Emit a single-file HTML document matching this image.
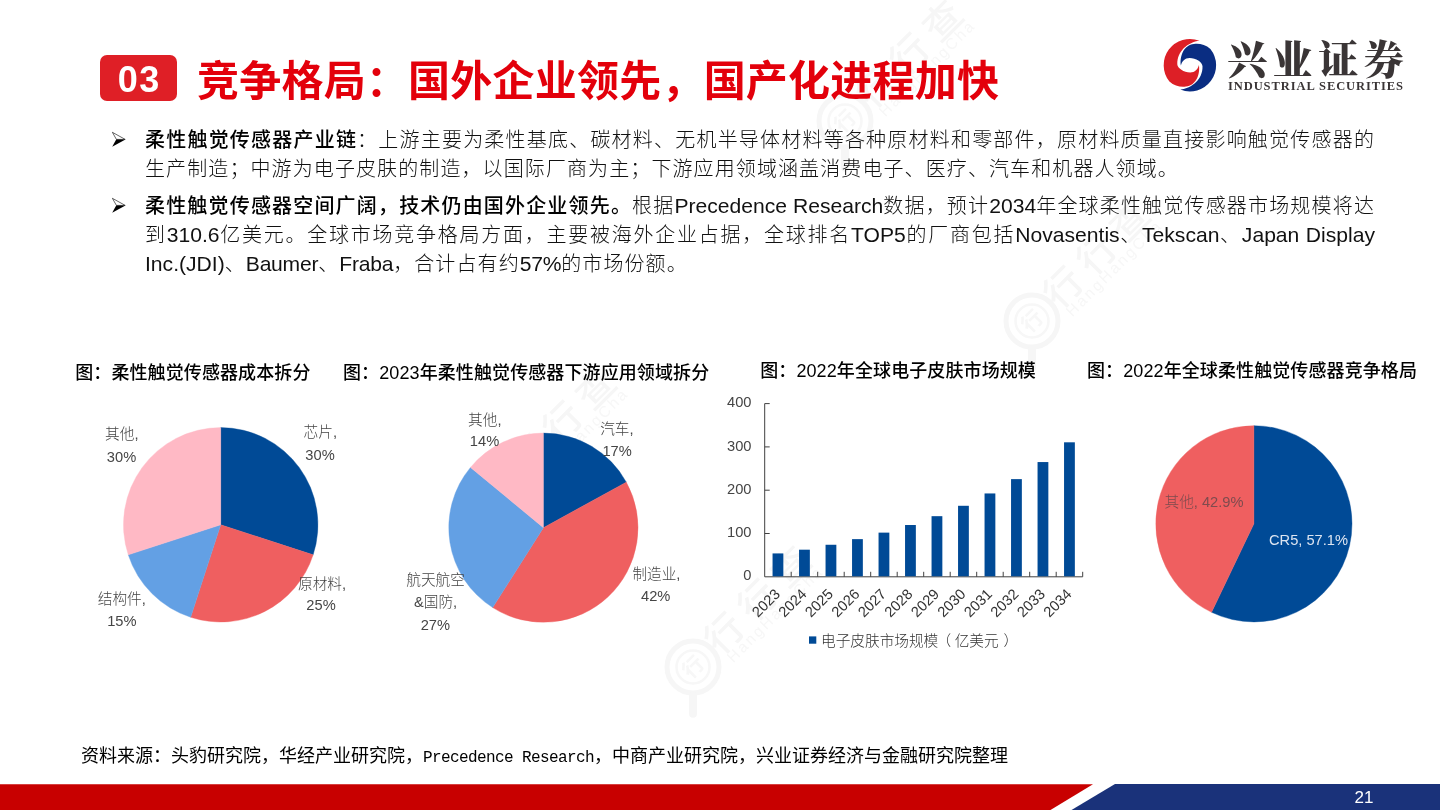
<!DOCTYPE html>
<html lang="zh-CN">
<head>
<meta charset="utf-8">
<title>竞争格局：国外企业领先，国产化进程加快</title>
<style>
html,body{margin:0;padding:0;background:#fff;}
body{width:1440px;height:810px;position:relative;overflow:hidden;font-family:"Liberation Sans","Noto Sans CJK SC",sans-serif;color:#000;}
.abs{position:absolute;}
#badge{left:100px;top:55px;width:77px;height:46px;border-radius:7px;background:#df1f26;color:#fff;font-weight:bold;font-size:36px;line-height:50px;text-align:center;letter-spacing:1.4px;text-indent:1.4px;}
#title{left:197px;top:51.5px;letter-spacing:0.22px;height:60px;line-height:60px;font-size:42px;font-weight:bold;color:#e3000b;white-space:nowrap;}
.para{left:145px;width:1230px;font-size:20px;letter-spacing:1.1px;line-height:29px;font-weight:300;text-align:justify;color:#111;}
.para b{font-weight:500;color:#000;}
.para .l{font-size:21.1px;letter-spacing:0;line-height:0;}
.para .n{letter-spacing:-0.25px;}
.ct{font-size:18px;line-height:24px;letter-spacing:0.1px;white-space:nowrap;color:#000;font-weight:500;}
#src{left:81px;top:745px;font-size:18px;line-height:24px;white-space:nowrap;font-family:"Liberation Mono","Noto Sans CJK SC",monospace;color:#000;}
#src .mono{font-size:16px;letter-spacing:-0.6px;}
#pg{left:1340px;top:787.3px;width:48px;text-align:center;color:#fff;font-size:17px;line-height:22px;}
svg text{font-family:"Liberation Sans","Noto Sans CJK SC",sans-serif;}
</style>
</head>
<body>
<!-- watermark -->
<svg class="abs" style="left:0;top:0" width="1440" height="810" viewBox="0 0 1440 810">
<g transform="translate(845 121) rotate(-45)">
  <circle r="26" fill="none" stroke="#f6f6f6" stroke-width="5"/>
  <circle r="16.5" fill="none" stroke="#f7f7f7" stroke-width="2.5"/>
  <text x="0" y="7.5" text-anchor="middle" font-size="21" font-weight="700" fill="#f7f7f7">行</text>
  <path d="M-20.5 20.5L-33 33" stroke="#f6f6f6" stroke-width="8" stroke-linecap="round"/>
  <text x="27" y="12" font-size="38" font-weight="500" fill="#f6f6f6" style="letter-spacing:9px">行行查</text>
  <text x="31" y="26" font-size="15.5" fill="#f7f7f7" style="letter-spacing:2.4px">HangHangCha</text>
</g>
<g transform="translate(1032 321) rotate(-45)">
  <circle r="26" fill="none" stroke="#f6f6f6" stroke-width="5"/>
  <circle r="16.5" fill="none" stroke="#f7f7f7" stroke-width="2.5"/>
  <text x="0" y="7.5" text-anchor="middle" font-size="21" font-weight="700" fill="#f7f7f7">行</text>
  <path d="M-20.5 20.5L-33 33" stroke="#f6f6f6" stroke-width="8" stroke-linecap="round"/>
  <text x="27" y="12" font-size="38" font-weight="500" fill="#f6f6f6" style="letter-spacing:9px">行行查</text>
  <text x="31" y="26" font-size="15.5" fill="#f7f7f7" style="letter-spacing:2.4px">HangHangCha</text>
</g>
<g transform="translate(498 489) rotate(-45)">
  <circle r="26" fill="none" stroke="#f6f6f6" stroke-width="5"/>
  <circle r="16.5" fill="none" stroke="#f7f7f7" stroke-width="2.5"/>
  <text x="0" y="7.5" text-anchor="middle" font-size="21" font-weight="700" fill="#f7f7f7">行</text>
  <path d="M-20.5 20.5L-33 33" stroke="#f6f6f6" stroke-width="8" stroke-linecap="round"/>
  <text x="27" y="12" font-size="38" font-weight="500" fill="#f6f6f6" style="letter-spacing:9px">行行查</text>
  <text x="31" y="26" font-size="15.5" fill="#f7f7f7" style="letter-spacing:2.4px">HangHangCha</text>
</g>
<g transform="translate(693 667) rotate(-45)">
  <circle r="26" fill="none" stroke="#f6f6f6" stroke-width="5"/>
  <circle r="16.5" fill="none" stroke="#f7f7f7" stroke-width="2.5"/>
  <text x="0" y="7.5" text-anchor="middle" font-size="21" font-weight="700" fill="#f7f7f7">行</text>
  <path d="M-20.5 20.5L-33 33" stroke="#f6f6f6" stroke-width="8" stroke-linecap="round"/>
  <text x="27" y="12" font-size="38" font-weight="500" fill="#f6f6f6" style="letter-spacing:9px">行行查</text>
  <text x="31" y="26" font-size="15.5" fill="#f7f7f7" style="letter-spacing:2.4px">HangHangCha</text>
</g>
</svg>
<!-- header -->
<div id="badge" class="abs">03</div>
<div id="title" class="abs">竞争格局：国外企业领先，国产化进程加快</div>

<!-- logo -->
<svg class="abs" style="left:1150px;top:20px" width="280" height="90" viewBox="0 0 280 90">
  <g transform="translate(39.9 45.2)">
    <path id="sw" d="M-9 0.3C-10.5 -9 -6 -20.5 4 -21.3C9 -22 15.5 -21 20.5 -16.3A26.2 26.2 0 0 1 -9.6 24.4C2 23 13 14 12.6 1C12.5 -3 6 -7.2 -0.3 -7.2C-5 -7.2 -8 -4 -9 0.3Z" fill="#0a2d82"/>
    <path d="M-9 0.3C-10.5 -9 -6 -20.5 4 -21.3C9 -22 15.5 -21 20.5 -16.3A26.2 26.2 0 0 1 -9.6 24.4C2 23 13 14 12.6 1C12.5 -3 6 -7.2 -0.3 -7.2C-5 -7.2 -8 -4 -9 0.3Z" fill="#dd1f26" transform="rotate(180)"/>
  </g>
  <text x="77" y="53.5" font-size="40" font-weight="900" fill="#3a3536" style="font-family:'Liberation Serif','Noto Serif CJK SC',serif;letter-spacing:5.6px">兴业证券</text>
  <text x="78" y="69.5" font-size="12.5" font-weight="bold" fill="#3a3536" style="font-family:'Liberation Serif',serif" textLength="175" lengthAdjust="spacing">INDUSTRIAL SECURITIES</text>
</svg>

<!-- body text -->
<svg class="abs" style="left:108px;top:128px" width="22" height="22" viewBox="108 128 22 22"><path d="M112.4 132.3L125.2 139.4H116.4Z" fill="#fff" stroke="#000" stroke-width="0.6" stroke-linejoin="miter"/><path d="M116.2 139.4H125.4L112.2 146.7Z" fill="#000"/></svg>
<div class="abs para" style="top:125.8px"><b>柔性触觉传感器产业链</b>：上游主要为柔性基底、碳材料、无机半导体材料等各种原材料和零部件，原材料质量直接影响触觉传感器的生产制造；中游为电子皮肤的制造，以国际厂商为主；下游应用领域涵盖消费电子、医疗、汽车和机器人领域。</div>
<svg class="abs" style="left:108px;top:194px" width="22" height="22" viewBox="108 194 22 22"><path d="M112.4 198.3L125.2 205.4H116.4Z" fill="#fff" stroke="#000" stroke-width="0.6" stroke-linejoin="miter"/><path d="M116.2 205.4H125.4L112.2 212.7Z" fill="#000"/></svg>
<div class="abs para" style="top:192px"><b>柔性触觉传感器空间广阔，技术仍由国外企业领先。</b>根据<span class="l">Precedence Research</span>数据，预计<span class="l">2034</span>年全球柔性触觉传感器市场规模将达到<span class="l">310.6</span>亿美元。全球市场竞争格局方面，主要被海外企业占据，全球排名<span class="l">TOP5</span>的厂商包括<span class="l">Novasentis</span>、<span class="l">Tekscan</span>、<span class="l">Japan Display Inc.(JDI)</span>、<span class="l n">Baumer</span>、<span class="l n">Fraba</span>，合计占有约<span class="l n">57%</span>的市场份额。</div>

<!-- chart titles -->
<div class="abs ct" style="left:75.2px;top:361px">图：柔性触觉传感器成本拆分</div>
<div class="abs ct" style="left:343px;top:361px">图：2023年柔性触觉传感器下游应用领域拆分</div>
<div class="abs ct" style="left:760.2px;top:359px">图：2022年全球电子皮肤市场规模</div>
<div class="abs ct" style="left:1087px;top:359px">图：2022年全球柔性触觉传感器竞争格局</div>

<!-- charts -->
<svg id="charts" class="abs" style="left:0;top:0" width="1440" height="810" viewBox="0 0 1440 810">
<path d="M220.70 524.80L220.70 427.60A97.2 97.2 0 0 1 313.14 554.84Z" fill="#004a96" stroke="#004a96" stroke-width="0.4"/>
<path d="M220.70 524.80L313.14 554.84A97.2 97.2 0 0 1 190.66 617.24Z" fill="#ef5f60" stroke="#ef5f60" stroke-width="0.4"/>
<path d="M220.70 524.80L190.66 617.24A97.2 97.2 0 0 1 128.26 554.84Z" fill="#63a0e4" stroke="#63a0e4" stroke-width="0.4"/>
<path d="M220.70 524.80L128.26 554.84A97.2 97.2 0 0 1 220.70 427.60Z" fill="#ffb9c5" stroke="#ffb9c5" stroke-width="0.4"/>
<text x="121.8" y="438.7" text-anchor="middle" font-size="14.67" font-weight="300" fill="#454545">其他,</text>
<text x="121.5" y="461.8" text-anchor="middle" font-size="14.67" font-weight="300" fill="#454545">30%</text>
<text x="320.3" y="437.2" text-anchor="middle" font-size="14.67" font-weight="300" fill="#454545">芯片,</text>
<text x="320" y="460.3" text-anchor="middle" font-size="14.67" font-weight="300" fill="#454545">30%</text>
<text x="322" y="588.9000000000001" text-anchor="middle" font-size="14.67" font-weight="300" fill="#454545">原材料,</text>
<text x="321" y="610.2" text-anchor="middle" font-size="14.67" font-weight="300" fill="#454545">25%</text>
<text x="121.8" y="603.7" text-anchor="middle" font-size="14.67" font-weight="300" fill="#454545">结构件,</text>
<text x="121.8" y="625.9000000000001" text-anchor="middle" font-size="14.67" font-weight="300" fill="#454545">15%</text>
<path d="M543.40 527.70L543.40 433.10A94.6 94.6 0 0 1 626.30 482.13Z" fill="#004a96" stroke="#004a96" stroke-width="0.4"/>
<path d="M543.40 527.70L626.30 482.13A94.6 94.6 0 0 1 492.71 607.57Z" fill="#ef5f60" stroke="#ef5f60" stroke-width="0.4"/>
<path d="M543.40 527.70L492.71 607.57A94.6 94.6 0 0 1 470.51 467.40Z" fill="#63a0e4" stroke="#63a0e4" stroke-width="0.4"/>
<path d="M543.40 527.70L470.51 467.40A94.6 94.6 0 0 1 543.40 433.10Z" fill="#ffb9c5" stroke="#ffb9c5" stroke-width="0.4"/>
<text x="484.8" y="424.5" text-anchor="middle" font-size="14.67" font-weight="300" fill="#454545">其他,</text>
<text x="484.5" y="446.09999999999997" text-anchor="middle" font-size="14.67" font-weight="300" fill="#454545">14%</text>
<text x="616.9" y="434.0" text-anchor="middle" font-size="14.67" font-weight="300" fill="#454545">汽车,</text>
<text x="617.1" y="456.2" text-anchor="middle" font-size="14.67" font-weight="300" fill="#454545">17%</text>
<text x="656.4" y="578.6" text-anchor="middle" font-size="14.67" font-weight="300" fill="#454545">制造业,</text>
<text x="655.7" y="600.9000000000001" text-anchor="middle" font-size="14.67" font-weight="300" fill="#454545">42%</text>
<text x="435.6" y="584.6" text-anchor="middle" font-size="14.67" font-weight="300" fill="#454545">航天航空</text>
<text x="435.6" y="607.4000000000001" text-anchor="middle" font-size="14.67" font-weight="300" fill="#454545">&amp;国防,</text>
<text x="435.3" y="629.6" text-anchor="middle" font-size="14.67" font-weight="300" fill="#454545">27%</text>
<path d="M1253.90 523.80L1253.90 425.70A98.1 98.1 0 1 1 1211.57 612.30Z" fill="#004a96" stroke="#004a96" stroke-width="0.4"/>
<path d="M1253.90 523.80L1211.57 612.30A98.1 98.1 0 0 1 1253.90 425.70Z" fill="#ef5f60" stroke="#ef5f60" stroke-width="0.4"/>
<text x="1204" y="506.5" text-anchor="middle" font-size="14.67" font-weight="300" fill="#7e4b4e">其他, 42.9%</text>
<text x="1308.5" y="544.9000000000001" text-anchor="middle" font-size="14.67" font-weight="300" fill="#dde5f1">CR5, 57.1%</text>
<path d="M764.7 403.6V576.8H1082.7" fill="none" stroke="#404040" stroke-width="1"/>
<text x="751.5" y="580.40" text-anchor="end" font-size="14.67" font-weight="300" fill="#454545">0</text>
<path d="M764.7 533.50h5" stroke="#404040" stroke-width="1" fill="none"/>
<text x="751.5" y="537.10" text-anchor="end" font-size="14.67" font-weight="300" fill="#454545">100</text>
<path d="M764.7 490.20h5" stroke="#404040" stroke-width="1" fill="none"/>
<text x="751.5" y="493.80" text-anchor="end" font-size="14.67" font-weight="300" fill="#454545">200</text>
<path d="M764.7 446.90h5" stroke="#404040" stroke-width="1" fill="none"/>
<text x="751.5" y="450.50" text-anchor="end" font-size="14.67" font-weight="300" fill="#454545">300</text>
<path d="M764.7 403.60h5" stroke="#404040" stroke-width="1" fill="none"/>
<text x="751.5" y="407.20" text-anchor="end" font-size="14.67" font-weight="300" fill="#454545">400</text>
<path d="M791.20 576.8v-5" stroke="#404040" stroke-width="1" fill="none"/>
<path d="M817.70 576.8v-5" stroke="#404040" stroke-width="1" fill="none"/>
<path d="M844.20 576.8v-5" stroke="#404040" stroke-width="1" fill="none"/>
<path d="M870.70 576.8v-5" stroke="#404040" stroke-width="1" fill="none"/>
<path d="M897.20 576.8v-5" stroke="#404040" stroke-width="1" fill="none"/>
<path d="M923.70 576.8v-5" stroke="#404040" stroke-width="1" fill="none"/>
<path d="M950.20 576.8v-5" stroke="#404040" stroke-width="1" fill="none"/>
<path d="M976.70 576.8v-5" stroke="#404040" stroke-width="1" fill="none"/>
<path d="M1003.20 576.8v-5" stroke="#404040" stroke-width="1" fill="none"/>
<path d="M1029.70 576.8v-5" stroke="#404040" stroke-width="1" fill="none"/>
<path d="M1056.20 576.8v-5" stroke="#404040" stroke-width="1" fill="none"/>
<path d="M1082.70 576.8v-5" stroke="#404040" stroke-width="1" fill="none"/>
<rect x="772.55" y="553.42" width="10.8" height="22.88" fill="#004a96"/>
<text x="780.95" y="595" text-anchor="end" font-size="14.67" font-weight="300" fill="#333" transform="rotate(-45 780.95 595)">2023</text>
<rect x="799.05" y="549.69" width="10.8" height="26.61" fill="#004a96"/>
<text x="807.45" y="595" text-anchor="end" font-size="14.67" font-weight="300" fill="#333" transform="rotate(-45 807.45 595)">2024</text>
<rect x="825.55" y="544.76" width="10.8" height="31.54" fill="#004a96"/>
<text x="833.95" y="595" text-anchor="end" font-size="14.67" font-weight="300" fill="#333" transform="rotate(-45 833.95 595)">2025</text>
<rect x="852.05" y="539.13" width="10.8" height="37.17" fill="#004a96"/>
<text x="860.45" y="595" text-anchor="end" font-size="14.67" font-weight="300" fill="#333" transform="rotate(-45 860.45 595)">2026</text>
<rect x="878.55" y="532.63" width="10.8" height="43.67" fill="#004a96"/>
<text x="886.95" y="595" text-anchor="end" font-size="14.67" font-weight="300" fill="#333" transform="rotate(-45 886.95 595)">2027</text>
<rect x="905.05" y="525.01" width="10.8" height="51.29" fill="#004a96"/>
<text x="913.45" y="595" text-anchor="end" font-size="14.67" font-weight="300" fill="#333" transform="rotate(-45 913.45 595)">2028</text>
<rect x="931.55" y="516.18" width="10.8" height="60.12" fill="#004a96"/>
<text x="939.95" y="595" text-anchor="end" font-size="14.67" font-weight="300" fill="#333" transform="rotate(-45 939.95 595)">2029</text>
<rect x="958.05" y="505.79" width="10.8" height="70.51" fill="#004a96"/>
<text x="966.45" y="595" text-anchor="end" font-size="14.67" font-weight="300" fill="#333" transform="rotate(-45 966.45 595)">2030</text>
<rect x="984.55" y="493.45" width="10.8" height="82.85" fill="#004a96"/>
<text x="992.95" y="595" text-anchor="end" font-size="14.67" font-weight="300" fill="#333" transform="rotate(-45 992.95 595)">2031</text>
<rect x="1011.05" y="479.12" width="10.8" height="97.18" fill="#004a96"/>
<text x="1019.45" y="595" text-anchor="end" font-size="14.67" font-weight="300" fill="#333" transform="rotate(-45 1019.45 595)">2032</text>
<rect x="1037.55" y="462.06" width="10.8" height="114.24" fill="#004a96"/>
<text x="1045.95" y="595" text-anchor="end" font-size="14.67" font-weight="300" fill="#333" transform="rotate(-45 1045.95 595)">2033</text>
<rect x="1064.05" y="442.31" width="10.8" height="133.99" fill="#004a96"/>
<text x="1072.45" y="595" text-anchor="end" font-size="14.67" font-weight="300" fill="#333" transform="rotate(-45 1072.45 595)">2034</text>
<rect x="809" y="636.4" width="7.3" height="7.3" fill="#004a96"/>
<text y="645.6" font-size="14.67" font-weight="300" fill="#333"><tspan x="821">电子皮肤市场规模</tspan><tspan x="936.6">（</tspan><tspan x="954.7">亿美元</tspan><tspan x="1003.5">）</tspan></text>
</svg>

<!-- footer -->
<div id="src" class="abs">资料来源：头豹研究院，华经产业研究院，<span class="mono">Precedence Research</span>，中商产业研究院，兴业证券经济与金融研究院整理</div>
<svg class="abs" style="left:0;top:780px" width="1440" height="30" viewBox="0 780 1440 30">
  <polygon points="0,784.2 1093,784.2 1050.5,810 0,810" fill="#c80000"/>
  <polygon points="1115,784 1440,784 1440,810 1071.5,810" fill="#1a327a"/>
</svg>
<div id="pg" class="abs">21</div>
</body>
</html>
